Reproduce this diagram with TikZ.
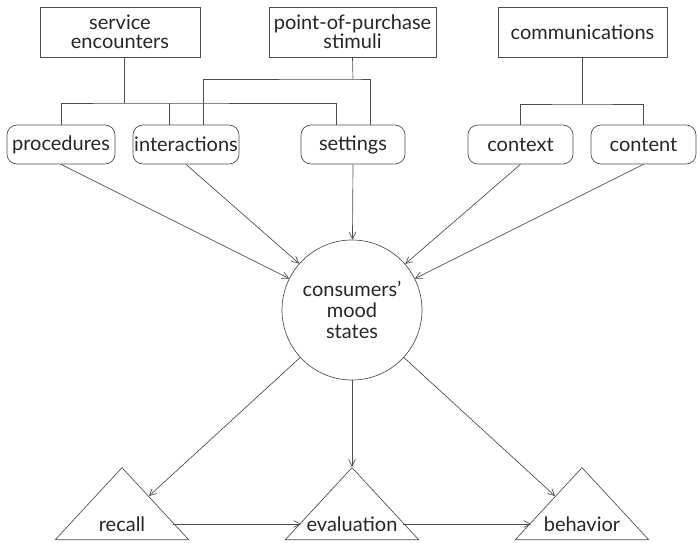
\documentclass[tikz,border=0pt]{standalone}
\usepackage{fontspec}
\setmainfont{Lato}
\usetikzlibrary{shapes.geometric,arrows.meta,calc}
\begin{document}
\begin{tikzpicture}[x=0.75pt,y=-0.75pt,
  every node/.style={font=\fontsize{15}{14}\selectfont, text=black!85},
  line/.style={draw=black!70, line width=0.5pt},
  arr/.style={line, -{Straight Barb[length=5pt,width=5pt]}},
  topbox/.style={line, minimum height=37.5pt, align=center, inner sep=0pt},
  rbox/.style={line, rounded corners=7.5pt, minimum height=29.25pt, inner sep=0pt},
  moodc/.style={line, circle, minimum size=105pt, align=center, inner sep=0pt, font=\fontsize{15}{15.5}\selectfont},
  tri/.style={line, isosceles triangle, shape border rotate=90, isosceles triangle stretches, minimum width=100pt, minimum height=54pt, inner sep=0pt, anchor=south},
  tritext/.style={inner sep=0pt, minimum width=76pt, minimum height=12pt}
]
\useasboundingbox (0,0) rectangle (697,543);

\node[topbox, minimum width=120pt] (sv) at (120,32) {service\\encounters};
\node[topbox, minimum width=125.25pt] (pop) at (352.5,32) {point-of-purchase\\stimuli};
\node[topbox, minimum width=126.75pt] (com) at (582.5,32) {communications};

\node[rbox, minimum width=81pt] (proc) at (61,144.5) {procedures};
\node[rbox, minimum width=79.5pt] (inter) at (186,144.5) {interactions};
\node[rbox, minimum width=78pt] (set) at (353,144.5) {settings};
\node[rbox, minimum width=78.75pt] (ctx) at (520.5,144.5) {context};
\node[rbox, minimum width=78.75pt] (cnt) at (643.5,144.5) {content};

\node[moodc] (mood) at (352,310) {consumers'{}\\mood\\states};

\node[tri] (rec) at (122,540) {};
\node[tri] (eva) at (352,540) {};
\node[tri] (beh) at (582,540) {};
\node[tritext] (recT) at (122,524) {recall};
\node[tritext] (evaT) at (352,524) {evaluation};
\node[tritext] (behT) at (582,524) {behavior};

% bus lines
\coordinate (sb) at (124,103);
\coordinate (pb) at (353,79);
\coordinate (cb) at (582.5,104);
\draw[line] ([xshift=3pt]sv.south) -- (sb);
\draw[line] (proc.north) |- (sb) -| ([xshift=-12.75pt]set.north);
\draw[line] ([xshift=-12.75pt]inter.north) -- ([xshift=-12.75pt]inter.north |- sb);
\draw[line] (pop.south) -- (pb);
\draw[line] ([xshift=12.75pt]inter.north) |- (pb) -| ([xshift=12.75pt]set.north);
\draw[line] (com.south) -- (cb);
\draw[line] (ctx.north) |- (cb) -| (cnt.north);

% arrows into mood
\foreach \n in {proc,inter,set,ctx,cnt} \draw[arr] (\n.south) -- (mood);

% arrows out of mood
\coordinate (recIn) at ($(rec.apex)!0.4!(rec.right corner)$);
\coordinate (behIn) at ($(beh.apex)!0.4!(beh.left corner)$);
\draw[arr] (mood) -- (recIn);
\draw[arr] (mood) -- (eva.apex);
\draw[arr] (mood) -- (behIn);
\draw[arr] (recT) -- (evaT);
\draw[arr] (evaT) -- (behT);
\end{tikzpicture}
\end{document}
